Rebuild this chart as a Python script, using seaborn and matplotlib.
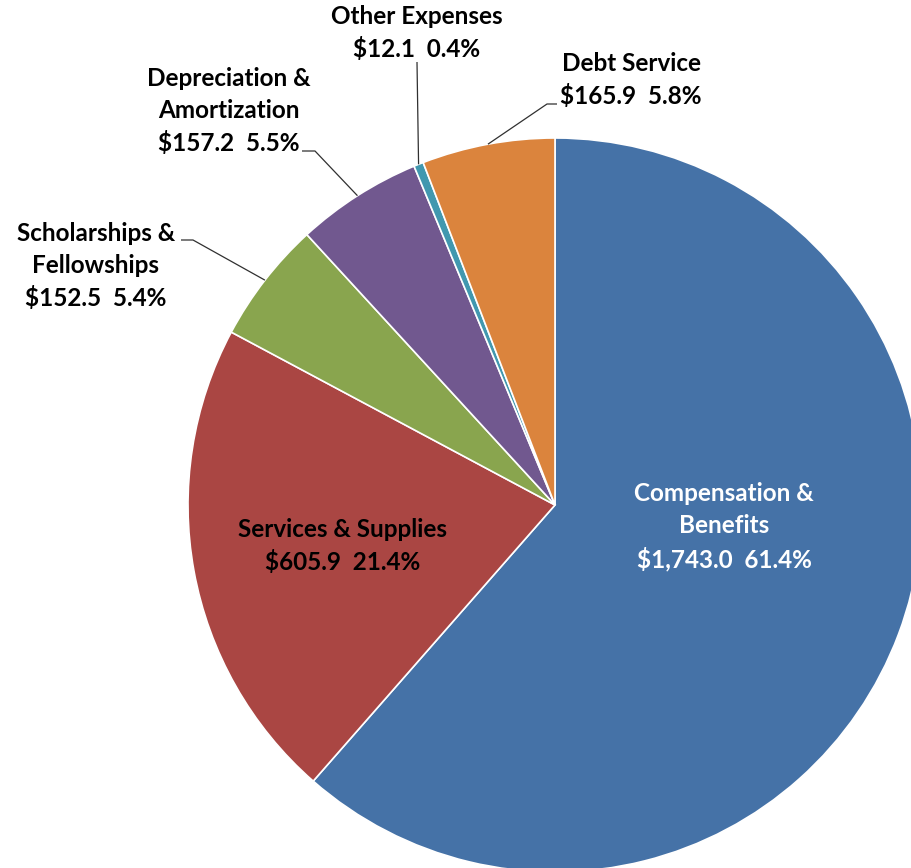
import matplotlib
matplotlib.use("Agg")
import matplotlib.pyplot as plt
import seaborn as sns
import numpy as np

categories = ["Compensation &\nBenefits", "Services & Supplies", "Scholarships &\nFellowships",
              "Depreciation &\nAmortization", "Other Expenses", "Debt Service"]
values = [1743.0, 605.9, 152.5, 157.2, 12.1, 165.9]
colors = ["#4572A7", "#AA4643", "#89A54E", "#71588F", "#4198AF", "#DB843D"]

sns.set_theme(style="white")
plt.rcParams["font.family"] = ["Lato", "DejaVu Sans"]

W, H = 911, 868
CX, CY, R = 555, 505, 367


def px(x, y):
    return (x - CX) / R, (CY - y) / R


fig = plt.figure(figsize=(W / 100, H / 100), dpi=100)
ax = fig.add_axes([0, 0, 1, 1])
wedges, _ = ax.pie(values, colors=colors, startangle=90, counterclock=False, radius=1,
                   wedgeprops=dict(edgecolor="white", linewidth=1.2))
ax.set_xlim(-CX / R, (W - CX) / R)
ax.set_ylim(-(H - CY) / R, CY / R)
ax.set_aspect("auto")
ax.axis("off")

total = sum(values)
# label layout: text centre (pixels), text colour, leader elbow points (pixels)
layout = [
    ((724, 527), "white", None),
    ((343, 546), "black", None),
    ((96, 266), "black", [(181, 240), (193, 240)]),
    ((229, 111), "black", [(302, 151), (315, 151)]),
    ((417, 33), "black", [(417, 62)]),
    ((631, 80), "black", [(557, 104), (547, 104)]),
]

for w, cat, v, (tpos, tcol, elbow) in zip(wedges, categories, values, layout):
    pct = v / total * 100
    txt = f"{cat}\n${v:,.1f}  {pct:.1f}%"
    tx, ty = px(*tpos)
    ax.text(tx, ty, txt, ha="center", va="center", fontsize=17.5, fontweight="bold",
            color=tcol, linespacing=1.48)
    if elbow:
        ang = np.deg2rad((w.theta1 + w.theta2) / 2)
        pts = [px(*p) for p in elbow] + [(np.cos(ang), np.sin(ang))]
        xs, ys = zip(*pts)
        ax.plot(xs, ys, color="#303030", lw=0.9, solid_capstyle="butt")

fig.savefig("out.png", dpi=100)
